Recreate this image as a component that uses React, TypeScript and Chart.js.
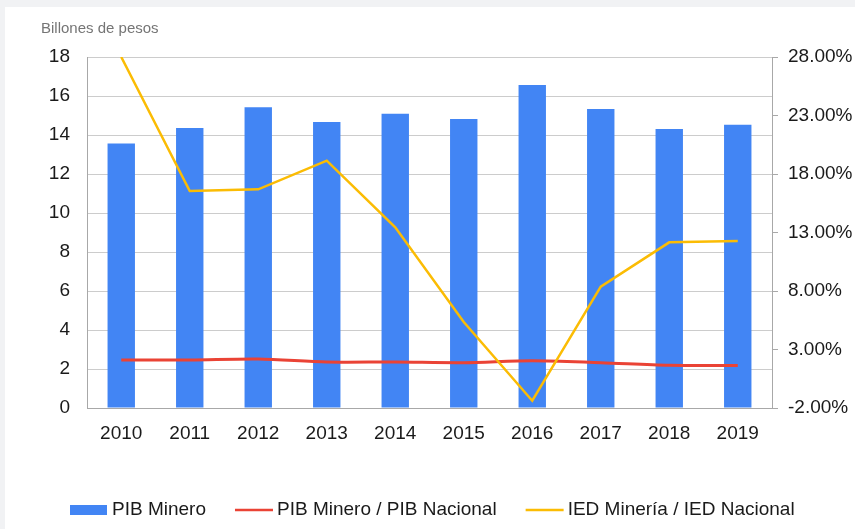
import React, { useEffect, useRef } from "react";
import { Chart, registerables } from "chart.js";

Chart.register(...registerables);

const years = ["2010", "2011", "2012", "2013", "2014", "2015", "2016", "2017", "2018", "2019"];
const pibMinero = [13.57, 14.36, 15.42, 14.67, 15.09, 14.82, 16.56, 15.33, 14.31, 14.53];
const pibRatio = [2.1, 2.1, 2.19, 1.93, 1.93, 1.87, 2.04, 1.87, 1.65, 1.63];
const iedRatio = [28.0, 16.55, 16.69, 19.14, 13.44, 5.35, -1.38, 8.37, 12.16, 12.27];
const seriesLabels = ["PIB Minero", "PIB Minero / PIB Nacional", "IED Minería / IED Nacional"];
const leftAxisTitle = "Billones de pesos";
const leftMin = 0, leftMax = 18, leftStep = 2;
const rightMin = -2, rightMax = 28, rightStep = 5;

const FONT = '"Liberation Sans", Arial, sans-serif';
const BLUE = "#4285F4";
const RED = "#EA4335";
const YELLOW = "#FBBC04";

const overlayPlugin = {
  id: "overlay",
  afterDraw(chart: any) {
    const ctx = chart.ctx;
    ctx.save();
    ctx.font = `15px ${FONT}`;
    ctx.fillStyle = "#757575";
    ctx.textBaseline = "middle";
    ctx.textAlign = "left";
    ctx.fillText(leftAxisTitle, 36, 22);

    ctx.font = `19px ${FONT}`;
    let x = 65;
    const y = 503;
    chart.data.datasets.forEach((ds: any) => {
      if (ds.type === "bar") {
        ctx.fillStyle = ds.backgroundColor;
        ctx.fillRect(x, y - 5, 37, 10);
      } else {
        ctx.strokeStyle = ds.borderColor;
        ctx.lineWidth = 2.5;
        ctx.beginPath();
        ctx.moveTo(x, y);
        ctx.lineTo(x + 38, y);
        ctx.stroke();
      }
      x += 42;
      ctx.fillStyle = "#1a1a1a";
      ctx.fillText(ds.label, x, y);
      x += ctx.measureText(ds.label).width + 29;
    });
    ctx.restore();
  },
};

export default function App() {
  const ref = useRef<HTMLCanvasElement>(null);
  useEffect(() => {
    if (!ref.current) return;
    const chart = new Chart(ref.current, {
      type: "bar",
      data: {
        labels: years,
        datasets: [
          {
            type: "bar",
            label: seriesLabels[0],
            data: pibMinero,
            backgroundColor: BLUE,
            borderWidth: 0,
            categoryPercentage: 0.8,
            barPercentage: 0.5,
            yAxisID: "y",
            order: 3,
          },
          {
            type: "line",
            label: seriesLabels[1],
            data: pibRatio,
            borderColor: RED,
            backgroundColor: RED,
            borderWidth: 3,
            pointRadius: 0,
            tension: 0.3,
            yAxisID: "y1",
            order: 2,
          },
          {
            type: "line",
            label: seriesLabels[2],
            data: iedRatio,
            borderColor: YELLOW,
            backgroundColor: YELLOW,
            borderWidth: 2.5,
            pointRadius: 0,
            tension: 0,
            yAxisID: "y1",
            order: 1,
          },
        ] as any,
      },
      options: {
        animation: false,
        responsive: false,
        events: [],
        layout: { padding: { top: 50, bottom: 81, left: 0, right: 0 } },
        plugins: { legend: { display: false }, tooltip: { enabled: false } },
        scales: {
          x: {
            grid: { display: false },
            border: { display: true, color: "#a8a8a8", width: 1 },
            ticks: { color: "#1a1a1a", font: { family: FONT, size: 19 }, padding: 6, maxRotation: 0 },
            afterFit: (s: any) => { s.height = 40; },
          },
          y: {
            position: "left",
            min: leftMin,
            max: leftMax,
            ticks: { stepSize: leftStep, color: "#1a1a1a", font: { family: FONT, size: 19 }, padding: 17 },
            grid: { color: "#cccccc", drawTicks: false, lineWidth: 1 },
            border: { display: true, color: "#a8a8a8", width: 1 },
            afterFit: (s: any) => { s.width = 82; },
          },
          y1: {
            position: "right",
            min: rightMin,
            max: rightMax,
            ticks: {
              stepSize: rightStep,
              color: "#1a1a1a",
              font: { family: FONT, size: 19 },
              padding: 10,
              callback: (v: any) => Number(v).toFixed(2) + "%",
            },
            grid: { drawOnChartArea: false, drawTicks: true, tickLength: 6, color: "#a8a8a8" },
            border: { display: true, color: "#a8a8a8", width: 1 },
            afterFit: (s: any) => { s.width = 83; },
          },
        },
      } as any,
      plugins: [overlayPlugin],
    });
    return () => chart.destroy();
  }, []);

  return (
    <div style={{ position: "fixed", left: 0, top: 0, width: 855, height: 529, background: "#f1f2f4" }}>
      <div style={{ position: "absolute", left: 5, top: 7, width: 850, height: 522, background: "#ffffff" }}>
        <canvas ref={ref} width={850} height={522} style={{ display: "block", width: 850, height: 522 }} />
      </div>
    </div>
  );
}
